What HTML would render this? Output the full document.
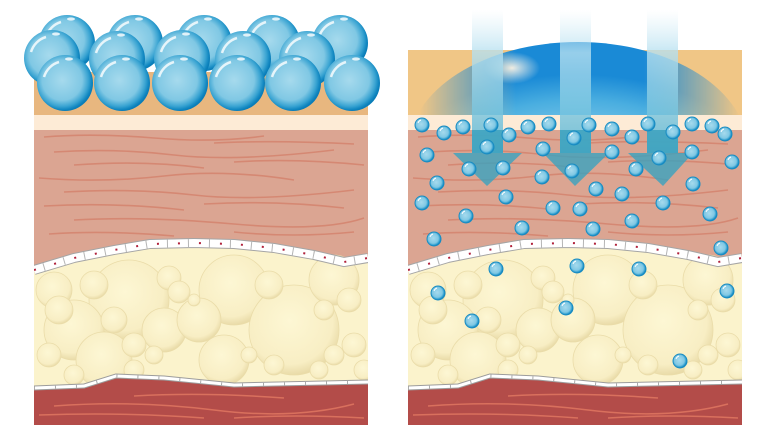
<!DOCTYPE html>
<html><head><meta charset="utf-8"><style>html,body{margin:0;padding:0;background:#fff}svg{display:block}</style></head><body>
<svg width="779" height="438" viewBox="0 0 779 438" xmlns="http://www.w3.org/2000/svg">
<defs>
<radialGradient id="sph" cx="0.45" cy="0.45" r="0.55">
<stop offset="0" stop-color="#a6daed"/><stop offset="0.65" stop-color="#80c8e4"/><stop offset="0.85" stop-color="#3aa4d2"/><stop offset="0.95" stop-color="#1489c2"/><stop offset="1" stop-color="#0a7db8"/></radialGradient>
<radialGradient id="fat" cx="0.45" cy="0.4" r="0.6">
<stop offset="0" stop-color="#fdf7d4"/><stop offset="0.8" stop-color="#f8eec4"/><stop offset="1" stop-color="#e9dba8"/></radialGradient>
<radialGradient id="dome" cx="0.5" cy="0.75" r="0.6">
<stop offset="0" stop-color="#9fd6ee"/><stop offset="0.5" stop-color="#86cbe9"/><stop offset="0.8" stop-color="#4aaee0"/><stop offset="1" stop-color="#1a8ad6"/></radialGradient>
<radialGradient id="hl" cx="0.5" cy="0.5" r="0.5">
<stop offset="0" stop-color="#fbf3e6" stop-opacity="0.95"/><stop offset="1" stop-color="#fbf3e6" stop-opacity="0"/></radialGradient>
<linearGradient id="fadeH" x1="0" y1="0" x2="1" y2="0">
<stop offset="0" stop-color="#fff" stop-opacity="0"/><stop offset="0.3" stop-color="#fff" stop-opacity="1"/><stop offset="0.7" stop-color="#fff" stop-opacity="1"/><stop offset="1" stop-color="#fff" stop-opacity="0"/></linearGradient>
<mask id="dm"><rect x="420" y="30" width="320" height="90" fill="url(#fadeH)"/></mask>
<linearGradient id="beam" x1="0" y1="0" x2="0" y2="1">
<stop offset="0" stop-color="#cfeaf5" stop-opacity="0"/><stop offset="0.3" stop-color="#b6e0f0" stop-opacity="0.8"/><stop offset="1" stop-color="#4fb3d4" stop-opacity="0.8"/></linearGradient>
<clipPath id="pc"><rect x="0" y="0" width="334" height="425"/></clipPath>
<clipPath id="dc"><rect x="408" y="0" width="334" height="115"/></clipPath>
<g id="base">
<rect x="0" y="115" width="334" height="15" fill="#fdebd6"/>
<rect x="0" y="130" width="334" height="140" fill="#dba592"/>
<g stroke="#d4826c" stroke-width="1.6" fill="none" opacity="0.8">
<path d="M10 137 Q60 133 120 138 T230 136"/><path d="M180 143 Q240 140 320 144"/>
<path d="M20 152 Q80 148 140 155 T300 150"/><path d="M40 165 Q110 160 170 168"/>
<path d="M200 162 Q260 158 330 165"/><path d="M5 178 Q70 183 130 176 T260 180"/>
<path d="M30 192 Q100 188 160 195 T320 190"/><path d="M10 206 Q80 202 150 210"/>
<path d="M170 204 Q240 200 310 208"/><path d="M40 220 Q110 216 200 224 T330 218"/>
<path d="M15 234 Q70 230 140 236"/><path d="M200 232 Q260 238 320 232"/>
</g>
<path d="M0 270 L40 258 L80 250 L116 244 L160 243 L200 244 L240 248 L280 255 L310 262 L334 258 L334 388 L200 385 L130 378 L82 376 L50 386 L0 388 Z" fill="#fbf3cc"/>
<g fill="url(#fat)" stroke="#eadca9" stroke-width="0.8">
<circle cx="95" cy="300" r="40"/><circle cx="200" cy="290" r="35"/><circle cx="260" cy="330" r="45"/>
<circle cx="130" cy="330" r="22"/><circle cx="40" cy="330" r="30"/><circle cx="300" cy="280" r="25"/>
<circle cx="165" cy="320" r="22"/><circle cx="70" cy="360" r="28"/><circle cx="190" cy="360" r="25"/>
<circle cx="20" cy="290" r="18"/><circle cx="60" cy="285" r="14"/><circle cx="135" cy="278" r="12"/>
<circle cx="25" cy="310" r="14"/><circle cx="80" cy="320" r="13"/><circle cx="100" cy="345" r="12"/>
<circle cx="145" cy="292" r="11"/><circle cx="160" cy="300" r="6"/><circle cx="235" cy="285" r="14"/>
<circle cx="290" cy="310" r="10"/><circle cx="315" cy="300" r="12"/><circle cx="320" cy="345" r="12"/>
<circle cx="15" cy="355" r="12"/><circle cx="300" cy="355" r="10"/><circle cx="240" cy="365" r="10"/>
<circle cx="215" cy="355" r="8"/><circle cx="120" cy="355" r="9"/><circle cx="285" cy="370" r="9"/>
<circle cx="100" cy="370" r="10"/><circle cx="40" cy="375" r="10"/><circle cx="330" cy="370" r="10"/>
</g>
<path d="M0 388 L50 386 L82 376 L130 378 L200 385 L334 382 L334 425 L0 425 Z" fill="#b34c49"/>
<g stroke="#d9705d" stroke-width="1.5" fill="none">
<path d="M20 406 Q100 400 180 410 T320 404"/><path d="M5 415 Q90 412 170 418"/><path d="M100 396 Q170 392 250 398"/><path d="M200 418 Q260 414 330 418"/>
</g>
<path d="M0 388 L50 386 L82 376 L130 378 L200 385 L334 382" fill="none" stroke="#9c9c9c" stroke-width="5"/>
<path d="M0 388 L50 386 L82 376 L130 378 L200 385 L334 382" fill="none" stroke="#fff" stroke-width="3"/>
<path d="M0 388 L50 386 L82 376 L130 378 L200 385 L334 382" fill="none" stroke="#aaa" stroke-width="3" stroke-dasharray="1 20"/>
<path d="M0 270 L40 258 L80 250 L116 244 L160 243 L200 244 L240 248 L280 255 L310 262 L334 258" fill="none" stroke="#a5a5a5" stroke-width="10"/>
<path d="M0 270 L40 258 L80 250 L116 244 L160 243 L200 244 L240 248 L280 255 L310 262 L334 258" fill="none" stroke="#fff" stroke-width="8"/>
<path d="M0 270 L40 258 L80 250 L116 244 L160 243 L200 244 L240 248 L280 255 L310 262 L334 258" fill="none" stroke="#b5b5b5" stroke-width="8" stroke-dasharray="1 20" stroke-dashoffset="-10"/>
<path d="M0 270 L40 258 L80 250 L116 244 L160 243 L200 244 L240 248 L280 255 L310 262 L334 258" fill="none" stroke="#b0203a" stroke-width="2" stroke-dasharray="2 19"/>
</g>
<g id="sp"><circle r="28" fill="url(#sph)"/><path d="M-21 -6 A22 22 0 0 1 -6 -21" stroke="#fff" stroke-width="2.5" fill="none" opacity="0.8"/><ellipse cx="4" cy="-24" rx="4" ry="1.6" fill="#fff" opacity="0.8"/></g>
<g id="dp"><circle r="7" fill="url(#sph)" stroke="#1a8cc2" stroke-width="1"/><path d="M-4 -2 A5 5 0 0 1 -1 -5" stroke="#fff" stroke-width="1" fill="none"/></g>
</defs>

<!-- LEFT -->
<g transform="translate(34,0)" clip-path="url(#pc)">
<rect x="0" y="72" width="334" height="43" fill="#e8b77f"/>
<use href="#base"/>
</g>
<g>
<use href="#sp" x="67" y="43"/><use href="#sp" x="135" y="43"/><use href="#sp" x="204" y="43"/><use href="#sp" x="272" y="43"/><use href="#sp" x="340" y="43"/>
<use href="#sp" x="52" y="58"/><use href="#sp" x="117" y="59"/><use href="#sp" x="182" y="58"/><use href="#sp" x="243" y="59"/><use href="#sp" x="307" y="59"/>
<use href="#sp" x="65" y="83"/><use href="#sp" x="122" y="83"/><use href="#sp" x="180" y="83"/><use href="#sp" x="237" y="83"/><use href="#sp" x="293" y="83"/><use href="#sp" x="352" y="83"/>
</g>

<!-- RIGHT -->
<g transform="translate(408,0)" clip-path="url(#pc)">
<rect x="0" y="50" width="334" height="65" fill="#f0c686"/>
<use href="#base"/>
</g>
<g clip-path="url(#dc)"><g mask="url(#dm)">
<ellipse cx="578" cy="150" rx="170" ry="108" fill="url(#dome)"/>
<ellipse cx="512" cy="68" rx="28" ry="16" fill="url(#hl)"/>
</g></g>
<g>
<rect x="472" y="10" width="31" height="143" fill="url(#beam)"/>
<rect x="560" y="10" width="31" height="143" fill="url(#beam)"/>
<rect x="647" y="10" width="31" height="143" fill="url(#beam)"/>
<g fill="#3aa3c0" opacity="0.8">
<rect x="472" y="130" width="31" height="23"/><rect x="560" y="130" width="31" height="23"/><rect x="647" y="130" width="31" height="23"/>
<path d="M453 153 L522 153 L487 186 Z"/><path d="M543 153 L609 153 L575 186 Z"/><path d="M628 153 L693 153 L663 186 Z"/>
</g>
</g>
<g>
<use href="#dp" x="422" y="125"/><use href="#dp" x="444" y="133"/><use href="#dp" x="463" y="127"/><use href="#dp" x="491" y="125"/><use href="#dp" x="509" y="135"/><use href="#dp" x="528" y="127"/><use href="#dp" x="549" y="124"/><use href="#dp" x="589" y="125"/><use href="#dp" x="612" y="129"/><use href="#dp" x="632" y="137"/><use href="#dp" x="648" y="124"/><use href="#dp" x="673" y="132"/><use href="#dp" x="692" y="124"/><use href="#dp" x="712" y="126"/><use href="#dp" x="725" y="134"/>
<use href="#dp" x="487" y="147"/><use href="#dp" x="574" y="138"/><use href="#dp" x="427" y="155"/><use href="#dp" x="543" y="149"/><use href="#dp" x="612" y="152"/><use href="#dp" x="659" y="158"/><use href="#dp" x="692" y="152"/><use href="#dp" x="732" y="162"/>
<use href="#dp" x="469" y="169"/><use href="#dp" x="503" y="168"/><use href="#dp" x="572" y="171"/><use href="#dp" x="636" y="169"/><use href="#dp" x="542" y="177"/>
<use href="#dp" x="437" y="183"/><use href="#dp" x="596" y="189"/><use href="#dp" x="622" y="194"/><use href="#dp" x="693" y="184"/>
<use href="#dp" x="422" y="203"/><use href="#dp" x="506" y="197"/><use href="#dp" x="553" y="208"/><use href="#dp" x="580" y="209"/><use href="#dp" x="663" y="203"/><use href="#dp" x="710" y="214"/>
<use href="#dp" x="466" y="216"/><use href="#dp" x="522" y="228"/><use href="#dp" x="593" y="229"/><use href="#dp" x="632" y="221"/>
<use href="#dp" x="434" y="239"/><use href="#dp" x="721" y="248"/>
<use href="#dp" x="496" y="269"/><use href="#dp" x="577" y="266"/><use href="#dp" x="639" y="269"/><use href="#dp" x="438" y="293"/><use href="#dp" x="727" y="291"/><use href="#dp" x="566" y="308"/><use href="#dp" x="472" y="321"/><use href="#dp" x="680" y="361"/>
</g>
</svg>
</body></html>
